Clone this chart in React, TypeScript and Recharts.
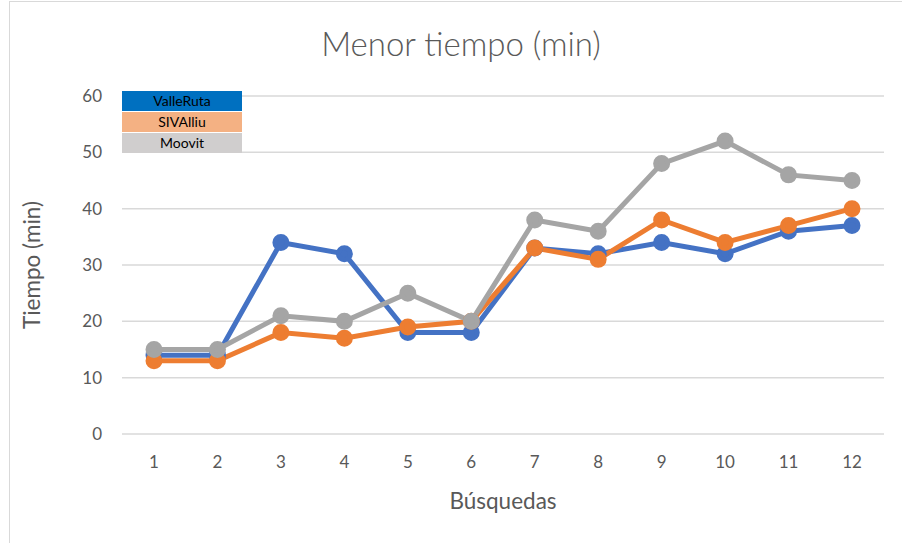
import {
  CartesianGrid,
  Label,
  Line,
  LineChart,
  XAxis,
  YAxis,
} from "recharts";

const busquedas = ["1", "2", "3", "4", "5", "6", "7", "8", "9", "10", "11", "12"];
const valleRuta = [14, 14, 34, 32, 18, 18, 33, 32, 34, 32, 36, 37];
const sivAlliu = [13, 13, 18, 17, 19, 20, 33, 31, 38, 34, 37, 40];
const moovit = [15, 15, 21, 20, 25, 20, 38, 36, 48, 52, 46, 45];
const yTicks = [0, 10, 20, 30, 40, 50, 60];

const legendRows = [
  { name: "ValleRuta", bg: "#0070C0" },
  { name: "SIVAlliu", bg: "#F4B183" },
  { name: "Moovit", bg: "#D0CECE" },
];

const data = busquedas.map((b, i) => ({
  busqueda: b,
  valleRuta: valleRuta[i],
  sivAlliu: sivAlliu[i],
  moovit: moovit[i],
}));

const font = "Lato, 'Open Sans', sans-serif";
const axisText = "#595959";

function YTitle({ viewBox }: any) {
  const cy = viewBox.y + viewBox.height / 2;
  return (
    <text
      x={31}
      y={cy}
      transform={`rotate(-90, 31, ${cy})`}
      textAnchor="middle"
      dominantBaseline="central"
      fill={axisText}
      fontSize={22.5}
      fontFamily={font}
    >
      Tiempo (min)
    </text>
  );
}

export default function App() {
  return (
    <div
      style={{
        position: "absolute",
        left: 0,
        top: 0,
        width: 902,
        height: 543,
        background: "#fff",
        overflow: "hidden",
      }}
    >
      <div
        style={{
          position: "absolute",
          left: 9,
          top: 1,
          width: 900,
          height: 600,
          border: "1px solid #d9d9d9",
        }}
      />
      <div
        style={{
          position: "absolute",
          top: 23,
          left: 0,
          width: 922,
          textAlign: "center",
          fontFamily: font,
          fontSize: 33,
          fontWeight: 300,
          color: axisText,
        }}
      >
        Menor tiempo (min)
      </div>
      <LineChart
        width={902}
        height={543}
        data={data}
        margin={{ top: 96, right: 18, left: 0, bottom: 0 }}
      >
        <CartesianGrid stroke="#d9d9d9" strokeWidth={1.5} vertical={false} />
        <XAxis
          dataKey="busqueda"
          axisLine={false}
          tickLine={false}
          tickSize={0}
          tickMargin={22}
          height={109}
          padding={{ left: 32, right: 32 }}
          tick={{ fill: axisText, fontSize: 17, fontFamily: font }}
        >
          <Label
            value="Búsquedas"
            position="insideBottom"
            offset={34}
            fill={axisText}
            fontSize={22.5}
            fontFamily={font}
          />
        </XAxis>
        <YAxis
          domain={[0, 60]}
          ticks={yTicks}
          axisLine={false}
          tickLine={false}
          tickSize={0}
          tickMargin={20}
          width={122}
          tick={{ fill: axisText, fontSize: 17, fontFamily: font }}
        >
          <Label content={<YTitle />} />
        </YAxis>
        <Line
          dataKey="valleRuta"
          name="ValleRuta"
          stroke="#4472C4"
          strokeWidth={5}
          dot={{ r: 6, fill: "#4472C4", stroke: "#4472C4" }}
          isAnimationActive={false}
        />
        <Line
          dataKey="sivAlliu"
          name="SIVAlliu"
          stroke="#ED7D31"
          strokeWidth={5}
          dot={{ r: 6, fill: "#ED7D31", stroke: "#ED7D31" }}
          isAnimationActive={false}
        />
        <Line
          dataKey="moovit"
          name="Moovit"
          stroke="#A5A5A5"
          strokeWidth={5}
          dot={{ r: 6, fill: "#A5A5A5", stroke: "#A5A5A5" }}
          isAnimationActive={false}
        />
      </LineChart>
      <div
        style={{
          position: "absolute",
          left: 122,
          top: 91,
          width: 120,
          fontFamily: font,
          fontSize: 14,
        }}
      >
        {legendRows.map((row) => (
          <div
            key={row.name}
            style={{
              background: row.bg,
              height: 20,
              lineHeight: "20px",
              textAlign: "center",
              color: "#000",
              borderBottom: "1px solid #fff",
            }}
          >
            {row.name}
          </div>
        ))}
      </div>
    </div>
  );
}
